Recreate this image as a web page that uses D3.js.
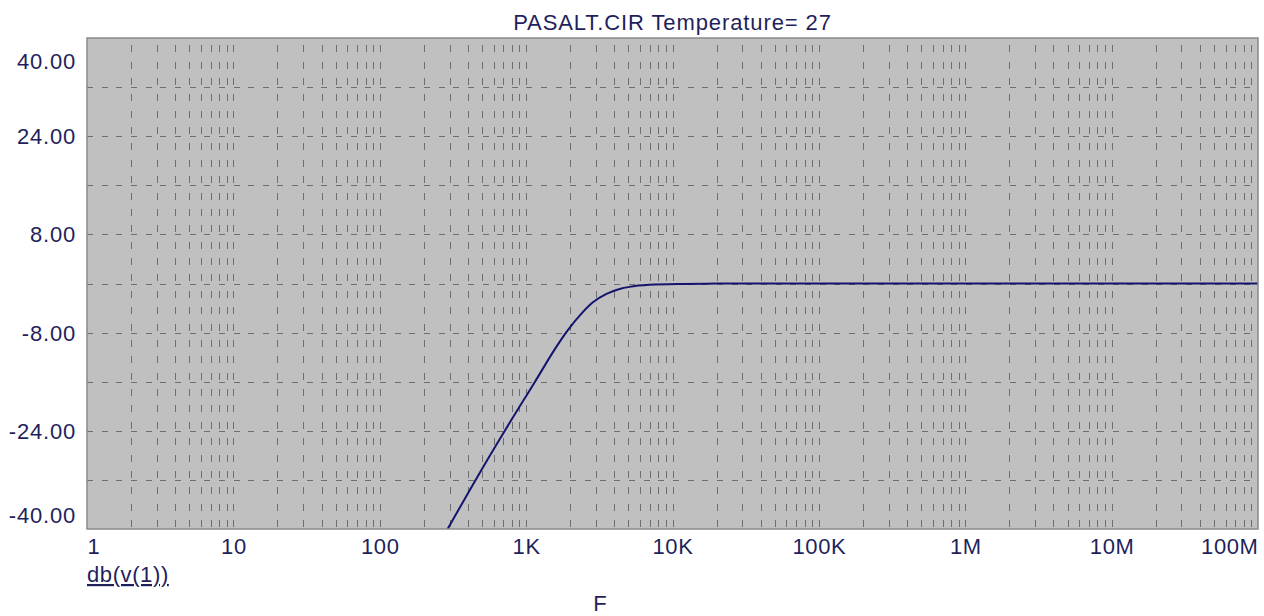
<!DOCTYPE html>
<html>
<head>
<meta charset="utf-8">
<script src="https://cdn.jsdelivr.net/npm/d3@7"></script>
<style>
  body { margin: 0; background: #fff; }
  #chartdiv { width: 1264px; height: 616px; }
  text { font-family: "Liberation Sans", Arial, sans-serif; fill: #1f1f5c; }
</style>
</head>
<body>
<div id="chartdiv"></div>
<script>

var freq = [291, 452, 715, 1150, 1600, 1900, 2430, 2845, 3542, 4348, 5084, 6966, 11700, 20000, 100000, 1000000, 10000000, 100000000];
var gain = [-40, -32, -24, -16, -10.4, -7.8, -4.7, -3.1, -1.7, -0.9, -0.55, -0.22, -0.07, -0.02, 0, 0, 0, 0];

var xLabels = ["1", "10", "100", "1K", "10K", "100K", "1M", "10M", "100M"];
var xLabelValues = [1, 10, 100, 1000, 10000, 100000, 1000000, 10000000, 100000000];
var yLabels = ["40.00", "24.00", "8.00", "-8.00", "-24.00", "-40.00"];
var yLabelValues = [40, 24, 8, -8, -24, -40];
var yGrid = [32, 24, 16, 8, 0, -8, -16, -24, -32];

var title = "PASALT.CIR Temperature= 27";
var traceName = "db(v(1))";
var xName = "F";

var margin = {left: 87, top: 38, right: 6, bottom: 87};
var width = 1264, height = 616;

var x = d3.scaleLog()
  .domain([1, 100000000])
  .range([margin.left, width - margin.right]);

var y = d3.scaleLinear()
  .domain([-40, 40])
  .range([height - margin.bottom, margin.top]);

var svg = d3.select("#chartdiv").append("svg")
  .attr("width", width)
  .attr("height", height);

// plot background
svg.append("rect")
  .attr("x", x.range()[0])
  .attr("y", y.range()[1])
  .attr("width", x.range()[1] - x.range()[0])
  .attr("height", y.range()[0] - y.range()[1])
  .style("fill", "#c0c0c0");

svg.append("clipPath")
  .attr("id", "plotclip")
  .append("rect")
  .attr("x", x.range()[0])
  .attr("y", y.range()[1])
  .attr("width", x.range()[1] - x.range()[0])
  .attr("height", y.range()[0] - y.range()[1]);

// vertical grid, every minor decade step
var xGrid = x.ticks().filter(function(d) { return d > 1 && d < 100000000; });

var xGridAxis = d3.axisBottom(x)
  .tickValues(xGrid)
  .tickSize(-(y.range()[0] - y.range()[1]))
  .tickFormat("");

svg.append("g")
  .attr("class", "grid")
  .attr("transform", "translate(0," + y.range()[0] + ")")
  .call(xGridAxis)
  .call(function(g) {
    g.select(".domain").remove();
    g.selectAll("line")
      .style("stroke", "#6e6e6e")
      .style("stroke-dasharray", "7,9.37")
      .style("stroke-dashoffset", -2)
      .attr("shape-rendering", "crispEdges");
  });

var yGridAxis = d3.axisLeft(y)
  .tickValues(yGrid)
  .tickSize(-(x.range()[1] - x.range()[0]))
  .tickFormat("");

svg.append("g")
  .attr("class", "grid")
  .attr("transform", "translate(" + x.range()[0] + ",0)")
  .call(yGridAxis)
  .call(function(g) {
    g.select(".domain").remove();
    g.selectAll("line")
      .style("stroke", "#6e6e6e")
      .style("stroke-dasharray", "6,8.65")
      .attr("shape-rendering", "crispEdges");
  });

// trace
var line = d3.line()
  .x(function(d, i) { return x(freq[i]); })
  .y(function(d) { return y(d); })
  .curve(d3.curveMonotoneX);

svg.append("path")
  .datum(gain)
  .attr("clip-path", "url(#plotclip)")
  .attr("d", line)
  .style("fill", "none")
  .style("stroke", "#14146e")
  .style("stroke-width", 2);

// frame
svg.append("rect")
  .attr("x", x.range()[0])
  .attr("y", y.range()[1])
  .attr("width", x.range()[1] - x.range()[0])
  .attr("height", y.range()[0] - y.range()[1])
  .style("fill", "none")
  .style("stroke", "#8a8a8a")
  .style("stroke-width", 1.5);

// x labels
var xAxis = d3.axisBottom(x)
  .tickValues(xLabelValues)
  .tickSize(0)
  .tickPadding(9)
  .tickFormat(function(d, i) { return xLabels[i]; });

svg.append("g")
  .attr("transform", "translate(0," + y.range()[0] + ")")
  .call(xAxis)
  .call(function(g) {
    g.select(".domain").remove();
    g.selectAll("text")
      .attr("font-family", null)
      .style("font-size", "22px")
      .style("letter-spacing", "0.6px")
      .attr("text-anchor", function(d, i) {
        if (i == 0) return "start";
        else if (i == xLabelValues.length - 1) return "end";
        return "middle";
      });
  });

// y labels
var yAxis = d3.axisLeft(y)
  .tickValues(yLabelValues)
  .tickSize(0)
  .tickPadding(11)
  .tickFormat(function(d, i) { return yLabels[i]; });

svg.append("g")
  .attr("transform", "translate(" + x.range()[0] + ",0)")
  .call(yAxis)
  .call(function(g) {
    g.select(".domain").remove();
    g.selectAll("text")
      .attr("font-family", null)
      .style("font-size", "22px")
      .style("letter-spacing", "0.8px")
      .attr("dy", function(d, i) {
        if (i == 0) return "1.39em";
        else if (i == yLabelValues.length - 1) return "-0.28em";
        return "0.34em";
      });
  });

svg.append("text")
  .attr("x", (x.range()[0] + x.range()[1]) / 2)
  .attr("y", 30)
  .attr("text-anchor", "middle")
  .style("font-size", "22px")
  .style("letter-spacing", "0.9px")
  .text(title);

svg.append("text")
  .attr("x", x.range()[0])
  .attr("y", 582)
  .style("font-size", "22px")
  .style("letter-spacing", "0.6px")
  .style("text-decoration", "underline")
  .text(traceName);

svg.append("text")
  .attr("x", 600)
  .attr("y", 611)
  .attr("text-anchor", "middle")
  .style("font-size", "22px")
  .text(xName);

</script>
</body>
</html>
